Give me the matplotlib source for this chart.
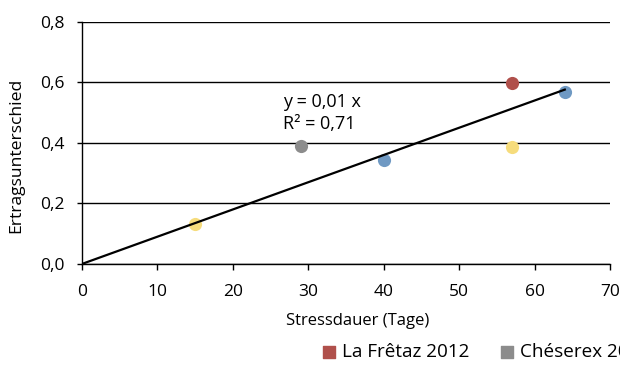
import numpy as np
import matplotlib.pyplot as plt
from matplotlib.ticker import FuncFormatter

plt.rcParams['font.family'] = ['Open Sans', 'DejaVu Sans']
plt.rcParams['font.stretch'] = 'semi-condensed'

# Punkte je Standort
red_x = [57]
red_y = [0.598]
gray_x = [29]
gray_y = [0.39]
blue_x = [40, 64]
blue_y = [0.343, 0.567]
yellow_x = [15, 57]
yellow_y = [0.132, 0.385]

legend_labels = ["La Frêtaz 2012", "Chéserex 2012"]

c_red = "#b0504b"
c_gray = "#8c8c8c"
c_blue = "#6f99c3"
c_yellow = "#f6dc7c"

fig = plt.figure(figsize=(6.2, 3.67), dpi=100)
ax = fig.add_axes([0.132, 0.2807, 0.852, 0.660])

ax.scatter(red_x, red_y, s=90, color=c_red, zorder=3, linewidths=0)
ax.scatter(gray_x, gray_y, s=90, color=c_gray, zorder=3, linewidths=0)
ax.scatter(blue_x, blue_y, s=90, color=c_blue, zorder=3, linewidths=0)
ax.scatter(yellow_x, yellow_y, s=90, color=c_yellow, zorder=3, linewidths=0)

# lineare Regression durch den Ursprung
x_all = np.array(red_x + gray_x + blue_x + yellow_x)
y_all = np.array(red_y + gray_y + blue_y + yellow_y)
slope = np.sum(x_all * y_all) / np.sum(x_all**2)
xx = np.array([0, x_all.max()])
ax.plot(xx, slope * xx, color="black", lw=1.6, zorder=4)
ax.text(26.6, 0.535, "y = 0,01 x", fontsize=13, va="center")
ax.text(26.6, 0.462, "R² = 0,71", fontsize=13, va="center")

ax.set_xlim(0, 70)
ax.set_ylim(0, 0.8)
ax.set_xticks(np.arange(0, 71, 10))
ax.set_yticks(np.arange(0, 0.81, 0.2))
ax.yaxis.set_major_formatter(FuncFormatter(lambda v, p: ("%.1f" % v).replace(".", ",")))
ax.grid(axis="y", color="black", lw=1)
ax.set_axisbelow(True)
for s in ["top", "right"]:
    ax.spines[s].set_visible(False)
ax.spines["left"].set_linewidth(1)
ax.spines["bottom"].set_linewidth(1)
ax.tick_params(axis="x", labelsize=12.5, length=4, width=1, direction="out", pad=10.5)
ax.tick_params(axis="y", labelsize=12.5, length=3.6, width=1, direction="out", pad=8.5)

ax.set_xlabel("Stressdauer (Tage)", fontsize=12, va="center")
ax.xaxis.set_label_coords(0.523, -0.235)
ax.set_ylabel("Ertragsunterschied", fontsize=12.6, va="center")
ax.yaxis.set_label_coords(-0.124, 0.45)

h1 = ax.scatter([], [], marker="s", s=80, color=c_red)
h2 = ax.scatter([], [], marker="s", s=80, color=c_gray)
fig.legend([h1, h2], legend_labels, loc="center left", bbox_to_anchor=(0.503, 0.041),
           ncol=2, frameon=False, borderpad=0, handlelength=0.8, handletextpad=0.28,
           columnspacing=1.6,
           prop={"family": ["Open Sans", "DejaVu Sans"], "size": 13.6, "stretch": "normal"})

fig.savefig("out.png", dpi=100)
